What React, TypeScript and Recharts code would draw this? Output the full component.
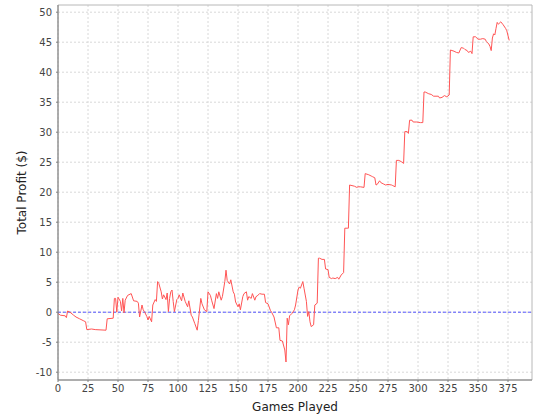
import {
  LineChart,
  Line,
  XAxis,
  YAxis,
  CartesianGrid,
  ReferenceLine,
  ReferenceArea,
} from "recharts";

// games played (x) and running total profit (y)
const games = [
  0, 2, 6, 7, 8, 10, 13, 15, 18, 21, 23, 24, 28, 31, 40, 41, 46, 47, 48, 49,
  50, 52, 53, 54, 55, 56, 58, 61, 63, 66, 67, 68, 70, 71, 72, 74, 75, 76, 78,
  79, 81, 82, 83, 84, 86, 87, 88, 90, 91, 92, 93, 94, 95, 96, 97, 99, 100, 101,
  103, 104, 106, 108, 109, 111, 112, 114, 116, 117, 119, 120, 122, 124, 125,
  127, 128, 130, 132, 133, 134, 136, 137, 139, 140, 141, 143, 144, 146, 147,
  148, 150, 151, 152, 154, 155, 157, 158, 159, 161, 162, 164, 165, 166, 168,
  170, 172, 173, 175, 177, 178, 180, 182, 184, 185, 187, 189, 190, 191, 192,
  193, 195, 197, 198, 200, 201, 202, 204, 205, 207, 208, 209, 210, 211, 213,
  214, 216, 217, 218, 220, 222, 223, 225, 226, 228, 229, 231, 233, 234, 236,
  238, 239, 241, 242, 243, 245, 247, 249, 250, 252, 255, 256, 259, 261, 262,
  264, 265, 266, 268, 269, 271, 273, 275, 278, 279, 281, 282, 284, 286, 288,
  289, 291, 292, 293, 295, 296, 299, 302, 304, 305, 306, 309, 311, 313, 315,
  317, 318, 320, 322, 324, 326, 327, 330, 332, 334, 336, 338, 339, 341, 342,
  344, 345, 346, 348, 350, 352, 354, 356, 357, 359, 360, 361, 362, 363, 364,
  365, 366, 367, 369, 371, 373, 374, 376,
];

const profit = [
  -0.2, -0.5, -0.6, -0.9, 0.2, 0, -0.5, -0.8, -1.1, -1.4, -1.6, -2.9, -2.8,
  -2.9, -3.0, -1.1, -1.0, 2.3, 2.3, 0, 2.5, 1.8, 0.2, 2.3, -0.1, 2.0, 2.8, 3.1,
  1.9, 1.8, 1.5, -0.8, 1.2, 0.4, 0.1, -0.7, -1.3, -0.7, -1.6, 1.2, 2.1, 1.8,
  5.1, 4.8, 3.4, 2.2, 2.9, 2.1, 3.2, 0.1, 2.3, 3.4, 3.7, 1.8, 0.1, 2.1, 2.3,
  2.9, 1.9, 3.2, 1.8, 0.9, 1.9, -0.5, -0.8, -1.9, -3.0, -1.4, 2.3, 1.4, 0.4,
  0.1, 3.4, 2.8, 2.0, 0.6, 3.1, 2.3, 3.4, 2.0, 2.6, 5.1, 7.0, 5.3, 4.7, 5.4,
  3.4, 3.0, 1.7, 0.9, 1.4, 0.4, 2.6, 3.1, 3.4, 2.0, 2.6, 2.3, 3.1, 2.0, 2.6,
  2.7, 3.1, 3.0, 3.0, 1.6, 1.4, 0.3, 0, -0.8, -2.6, -2.6, -4.7, -4.8, -6.3,
  -8.3, -1.0, -2.1, -0.6, -0.2, 0.4, 1.2, 3.7, 4.2, 4.0, 5.1, 4.0, 1.8, -0.7,
  0.1, -1.6, -2.4, -2.1, 1.2, 1.5, 9.0, 9.0, 8.8, 8.8, 7.2, 7.1, 5.8, 5.6, 5.7,
  5.6, 5.8, 5.5, 6.2, 6.6, 14.0, 14.0, 14.0, 21.2, 21.1, 21.0, 20.8, 20.9,
  20.9, 20.8, 23.1, 22.9, 22.7, 22.6, 22.4, 21.2, 21.3, 21.9, 21.6, 21.4, 21.2,
  21.3, 21.2, 21.1, 20.9, 25.3, 25.3, 25.1, 24.8, 30.1, 30.1, 29.8, 32.0, 32.0,
  31.7, 31.7, 31.6, 31.6, 36.7, 36.7, 36.4, 36.3, 36.0, 36.0, 36.0, 35.7, 35.8,
  36.1, 35.9, 36.2, 43.7, 43.5, 43.3, 43.2, 44.1, 44.0, 43.8, 43.6, 43.3, 43.5,
  43.1, 45.9, 45.9, 45.5, 45.5, 45.6, 45.5, 45.1, 44.7, 44.3, 43.6, 45.7, 46.4,
  46.2, 47.3, 48.3, 48.0, 48.4, 47.9, 47.3, 46.9, 45.3,
];

const xTicks = [0, 25, 50, 75, 100, 125, 150, 175, 200, 225, 250, 275, 300, 325, 350, 375];
const yTicks = [-10, -5, 0, 5, 10, 15, 20, 25, 30, 35, 40, 45, 50];

const data = games.map((g, i) => ({ game: g, profit: profit[i] }));

const tickStyle = { fontSize: 10, fill: "#444", fontFamily: "DejaVu Sans" };
const labelStyle = { fontSize: 12, fill: "#222", fontFamily: "DejaVu Sans" };

export default function App() {
  return (
    <div style={{ position: "absolute", left: 0, top: 0, background: "#fff" }}>
      <LineChart
        width={540}
        height={420}
        data={data}
        margin={{ top: 5, right: 8, bottom: 4, left: 8 }}
      >
        <CartesianGrid
          stroke="#d8d8d8"
          strokeDasharray="2 2"
          horizontalValues={yTicks}
          verticalValues={xTicks}
        />
        <ReferenceArea
          x1={0}
          x2={395}
          y1={-11.3}
          y2={51.2}
          fill="none"
          stroke="#b8b8b8"
          strokeOpacity={1}
          ifOverflow="extendDomain"
        />
        <XAxis
          dataKey="game"
          type="number"
          domain={[0, 395]}
          ticks={xTicks}
          allowDataOverflow
          height={36}
          tick={tickStyle}
          tickSize={2}
          tickMargin={3}
          stroke="#808080"
          label={{
            value: "Games Played",
            position: "insideBottom",
            offset: 5,
            style: labelStyle,
          }}
        />
        <YAxis
          type="number"
          domain={[-11.3, 51.2]}
          ticks={yTicks}
          allowDataOverflow
          width={50}
          tick={tickStyle}
          tickSize={2}
          tickMargin={4}
          stroke="#808080"
          label={{
            value: "Total Profit ($)",
            angle: -90,
            position: "insideLeft",
            offset: 14,
            style: { ...labelStyle, textAnchor: "middle" },
          }}
        />
        <ReferenceLine y={0} stroke="#5555ff" strokeDasharray="3 2" />
        <Line
          type="linear"
          dataKey="profit"
          stroke="#ff5555"
          strokeWidth={1}
          dot={false}
          isAnimationActive={false}
        />
      </LineChart>
    </div>
  );
}
